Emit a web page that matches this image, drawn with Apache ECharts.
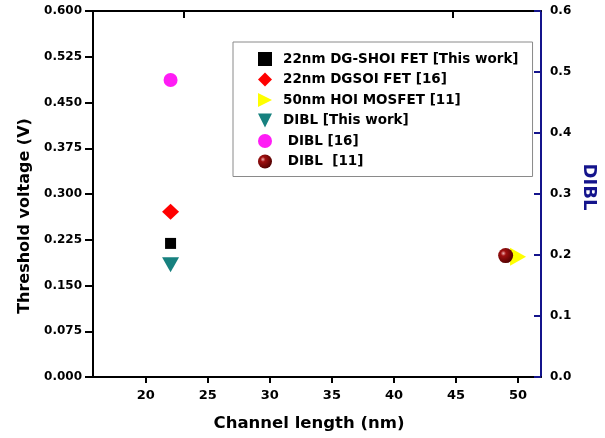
<!DOCTYPE html>
<html>
<head>
<meta charset="utf-8">
<script src="https://cdn.jsdelivr.net/npm/echarts@6/dist/echarts.min.js"></script>
<style>html,body{margin:0;padding:0;background:#fff}#c{width:605px;height:438px}</style>
</head>
<body>
<div id="c"></div>
<script>
const seriesNames = ['22nm DG-SHOI FET [This work]', '22nm DGSOI FET [16]', '50nm HOI MOSFET [11]', 'DIBL [This work]', ' DIBL [16]', ' DIBL  [11]'];
const channelLength = [22, 22, 50, 22, 22, 49];
const yValues = [0.219, 0.271, 0.197, 0.184, 0.487, 0.199];
const yAxisIndex = [0, 0, 0, 1, 1, 1];
const xTickValues = [20, 25, 30, 35, 40, 45, 50];
const topTickValues = [23.04, 44.7];
const leftTickValues = [0, 0.075, 0.15, 0.225, 0.3, 0.375, 0.45, 0.525, 0.6];
const rightTickValues = [0, 0.1, 0.2, 0.3, 0.4, 0.5, 0.6];

const FONT = 'DejaVu Sans';
const BLUE = '#14148c';
const symbols = ['rect', 'diamond', 'path://M0,0 L10,5 L0,10 Z', 'path://M0,0 L10,0 L5,10 Z', 'circle', 'circle'];
const sizes = [[11, 11], [17, 16], [16, 18], [17, 15], [14, 14], [15, 15]];
const colors = ['#000000', '#ff0000', '#ffff00', '#17817f', '#ff1cf5',
  new echarts.graphic.RadialGradient(0.35, 0.35, 0.7, [
    { offset: 0, color: '#f0b0b0' }, { offset: 0.25, color: '#a01010' }, { offset: 1, color: '#500000' }
  ])];

const chart = echarts.init(document.getElementById('c'), null, { renderer: 'canvas' });
const series = seriesNames.map((n, i) => ({
  name: n,
  type: 'scatter',
  xAxisIndex: 0,
  yAxisIndex: yAxisIndex[i],
  symbol: symbols[i],
  symbolSize: sizes[i],
  itemStyle: { color: colors[i], opacity: 1 },
  data: [[channelLength[i], yValues[i]]],
  z: 5
}));

chart.setOption({
  animation: false,
  backgroundColor: '#ffffff',
  grid: { left: 93, right: 64, top: 11, bottom: 61, containLabel: false },
  legend: {
    orient: 'vertical',
    left: 233, top: 42,
    padding: [10, 14, 8, 25],
    itemWidth: 14, itemHeight: 14,
    itemGap: 6.5,
    borderColor: '#8a8a8a', borderWidth: 1,
    backgroundColor: '#ffffff',
    data: seriesNames,
    textStyle: { fontFamily: FONT, fontWeight: 'bold', fontSize: 13.5, color: '#000', padding: [0, 0, 0, 6] }
  },
  xAxis: [{
    type: 'value', position: 'bottom', min: 15.75, max: 51.85,
    splitLine: { show: false },
    axisLine: { onZero: false, lineStyle: { color: '#000', width: 2 } },
    axisTick: { inside: false, length: 6, lineStyle: { width: 2, color: '#000' }, customValues: xTickValues },
    axisLabel: { customValues: xTickValues, margin: 12, fontFamily: FONT, fontWeight: 'bold', fontSize: 13, color: '#000' }
  }, {
    type: 'value', position: 'top', min: 15.75, max: 51.85,
    splitLine: { show: false },
    axisLine: { onZero: false, lineStyle: { color: '#000', width: 2 } },
    axisTick: { inside: true, length: 7, lineStyle: { width: 2, color: '#000' }, customValues: topTickValues },
    axisLabel: { show: false }
  }],
  yAxis: [{
    type: 'value', position: 'left', min: 0, max: 0.6,
    splitLine: { show: false },
    axisLine: { show: true, onZero: false, lineStyle: { color: '#000', width: 2 } },
    axisTick: { show: true, inside: false, length: 8, lineStyle: { width: 2, color: '#000' }, customValues: leftTickValues },
    axisLabel: { customValues: leftTickValues, margin: 11, fontFamily: FONT, fontWeight: 'bold', fontSize: 12, color: '#000',
      formatter: v => Number(v).toFixed(3) }
  }, {
    type: 'value', position: 'right', min: 0, max: 0.6,
    splitLine: { show: false },
    axisLine: { show: true, onZero: false, lineStyle: { color: BLUE, width: 2 } },
    axisTick: { show: true, inside: true, length: 7, lineStyle: { width: 2, color: BLUE }, customValues: rightTickValues },
    axisLabel: { customValues: rightTickValues, margin: 9, fontFamily: FONT, fontWeight: 'bold', fontSize: 12, color: '#000',
      formatter: v => Number(v).toFixed(1) }
  }],
  graphic: [
    { type: 'text', x: 25, y: 216, rotation: Math.PI / 2,
      style: { text: 'Threshold voltage (V)', x: 0, y: 0, textAlign: 'center', textVerticalAlign: 'middle',
        fontFamily: FONT, fontWeight: 'bold', fontSize: 16, fill: '#000' } },
    { type: 'text', x: 309, y: 424,
      style: { text: 'Channel length (nm)', x: 0, y: 0, textAlign: 'center', textVerticalAlign: 'middle',
        fontFamily: FONT, fontWeight: 'bold', fontSize: 16.5, fill: '#000' } },
    { type: 'text', x: 589, y: 187, rotation: -Math.PI / 2,
      style: { text: 'DIBL', x: 0, y: 0, textAlign: 'center', textVerticalAlign: 'middle',
        fontFamily: FONT, fontWeight: 'bold', fontSize: 18, fill: BLUE } }
  ],
  series: series
});
</script>
</body>
</html>
